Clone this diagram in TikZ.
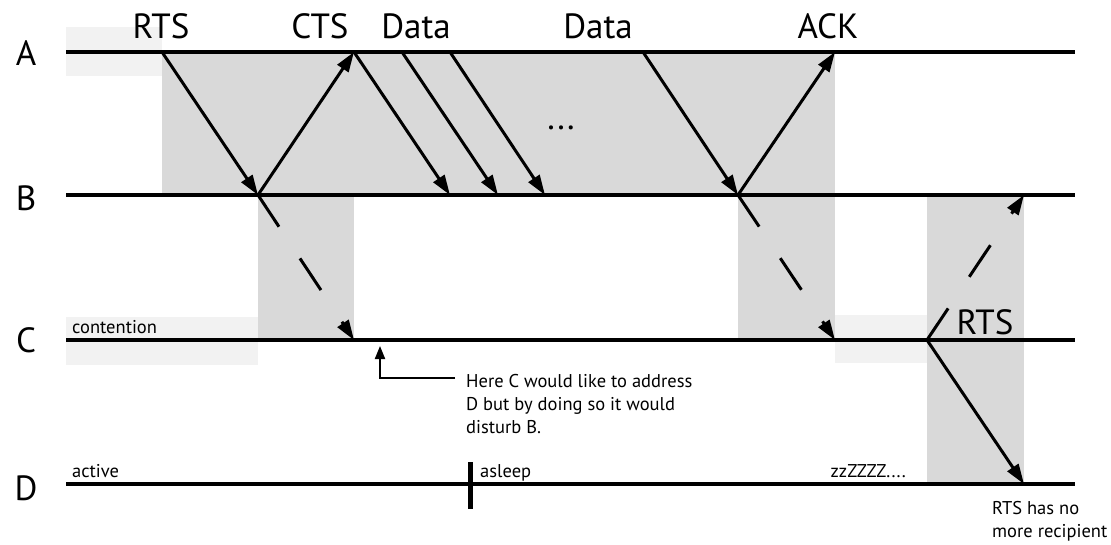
\documentclass[tikz,border=0pt]{standalone}
\usepackage{fontspec}
\setmainfont{PT Sans}
\usetikzlibrary{arrows.meta}
\definecolor{dgray}{HTML}{D9D9D9}
\definecolor{lgray}{HTML}{F2F2F2}
\begin{document}
\begin{tikzpicture}[x=1pt,y=-1pt,
  timeline/.style={line width=4pt},
  msg/.style={line width=3pt,-{Triangle[length=20pt,width=13pt]}},
  dmsg/.style={msg,dash pattern=on 38pt off 38pt},
  ptr/.style={line width=2pt,-{Triangle[length=13pt,width=10pt]}},
  big/.style={font=\fontsize{35}{40}\selectfont,inner sep=0pt},
  small/.style={font=\fontsize{18.5}{23}\selectfont,inner sep=0pt,align=left},
]
\useasboundingbox (0,0) rectangle (1111,544);
% shading
\fill[lgray] (66,27) rectangle (162,76);
\fill[dgray] (162,52) rectangle (835,195);
\fill[dgray] (258,195) rectangle (354,340);
\fill[lgray] (66,317) rectangle (258,365);
\fill[dgray] (738,195) rectangle (835,340);
\fill[lgray] (835,315) rectangle (927,363);
\fill[dgray] (927,195) rectangle (1024,484);
% timelines
\coordinate (As) at (66,52);  \coordinate (Ae) at (1075,52);
\coordinate (Bs) at (66,195); \coordinate (Be) at (1075,195);
\coordinate (Cs) at (66,340); \coordinate (Ce) at (1075,340);
\coordinate (Ds) at (66,484); \coordinate (De) at (1075,484);
\draw[timeline] (As) -- (Ae);
\draw[timeline] (Bs) -- (Be);
\draw[timeline] (Cs) -- (Ce);
\draw[timeline] (Ds) -- (De);
\node[big,anchor=base] (lA) at (26,65) {A};
\node[big,anchor=base] (lB) at (26,210) {B};
\node[big,anchor=base] (lC) at (26,352) {C};
\node[big,anchor=base] (lD) at (26,500) {D};
% event points
\coordinate (a1) at (162,52);
\coordinate (b1) at (258,195);
\coordinate (a2) at (354,52);
\coordinate (a3) at (402,52);
\coordinate (a4) at (450,52);
\coordinate (a5) at (643,52);
\coordinate (b2) at (450,195);
\coordinate (b3) at (498,195);
\coordinate (b4) at (545,195);
\coordinate (b5) at (738,195);
\coordinate (a6) at (835,52);
\coordinate (c1) at (354,340);
\coordinate (c2) at (835,340);
\coordinate (c3) at (927,340);
\coordinate (b6) at (1024,195);
\coordinate (d1) at (1024,484);
% messages
\draw[msg] (a1) -- (b1);
\draw[msg] (b1) -- (a2);
\draw[msg] (a2) -- (b2);
\draw[msg] (a3) -- (b3);
\draw[msg] (a4) -- (b4);
\draw[msg] (a5) -- (b5);
\draw[msg] (b5) -- (a6);
\draw[dmsg] (b1) -- (c1);
\draw[dmsg] (b5) -- (c2);
\draw[dmsg] (c3) -- (b6);
\draw[msg] (c3) -- (d1);
% message labels
\node[big,anchor=base] (tRTS) at (161,38) {RTS};
\node[big,anchor=base] (tCTS) at (320,38) {CTS};
\node[big,anchor=base] (tD1) at (416,38) {Data};
\node[big,anchor=base] (tD2) at (598,38) {Data};
\node[big,anchor=base] (tACK) at (828,38) {ACK};
\node[big,anchor=base] (dots) at (561,129) {...};
\node[big,anchor=base] (tRTS2) at (985,334) {RTS};
% state labels
\node[small,anchor=base west] (cont) at (72,333) {contention};
\node[small,anchor=base west] (act) at (72,477) {active};
\node[small,anchor=base west] (asl) at (480,477) {asleep};
\node[small,anchor=base east] (zz) at (906,477) {zzZZZZ....};
\draw[line width=5pt] (470,462) -- (470,509);
\node[small,anchor=base west] (norec) at (992,537) {RTS has no\\more recipient};
% note
\node[small,anchor=base west] (note) at (466,433) {Here C would like to address\\D but by doing so it would\\disturb B.};
\coordinate (nt) at (455,378);
\coordinate (ct) at (380,346);
\draw[ptr] (nt) -| (ct);
\end{tikzpicture}
\end{document}
